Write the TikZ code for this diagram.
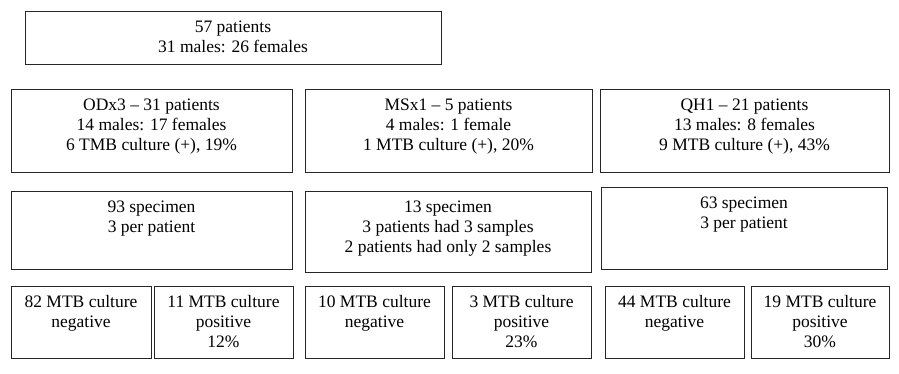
\documentclass[tikz,border=0pt]{standalone}
\usepackage{fontspec}
\setmainfont{Liberation Serif}
\tikzset{bx/.style={draw=black!85, line width=0.9pt, inner sep=0pt, outer sep=0pt,
  font=\fontsize{17.5}{19.8}\selectfont}}
\newcommand\bx[6]{%
  \pgfmathsetmacro\bw{#4-#2}\pgfmathsetmacro\bh{#5-#3}%
  \node[bx,anchor=north west] (#1) at (#2,#3)
    {\parbox[c][\bh pt][t]{\bw pt}{\centering\rule{0pt}{21.5pt}#6}};}
\begin{document}
\begin{tikzpicture}[x=1pt,y=-1pt]
\useasboundingbox (0,0) rectangle (899,373);
\bx{top}{25}{11}{441}{64}{57 patients\\31 males: 26 females}
\bx{odx}{11}{89}{292}{172}{ODx3 – 31 patients\\14 males: 17 females\\6 TMB culture (+), 19\%}
\bx{msx}{305}{89}{592}{172}{MSx1 – 5 patients\\4 males: 1 female\\1 MTB culture (+), 20\%}
\bx{qh}{600}{89}{889}{172}{QH1 – 21 patients\\13 males: 8 females\\9 MTB culture (+), 43\%}
\bx{s93}{11}{191}{292}{269}{93 specimen\\3 per patient}
\bx{s13}{305}{191}{591}{272.5}{13 specimen\\3 patients had 3 samples\\2 patients had only 2 samples}
\bx{s63}{601}{187}{887}{269}{63 specimen\\3 per patient}
\bx{n82}{11}{286}{151}{358}{82 MTB culture\\negative}
\bx{p11}{154}{286}{293}{358}{11 MTB culture\\positive\\12\%}
\bx{n10}{305}{286}{444}{358}{10 MTB culture\\negative}
\bx{p3}{452}{286}{591}{358}{3 MTB culture\\positive\\23\%}
\bx{n44}{605}{286}{744}{358}{44 MTB culture\\negative}
\bx{p19}{751}{286}{889}{358}{19 MTB culture\\positive\\30\%}
\end{tikzpicture}
\end{document}
